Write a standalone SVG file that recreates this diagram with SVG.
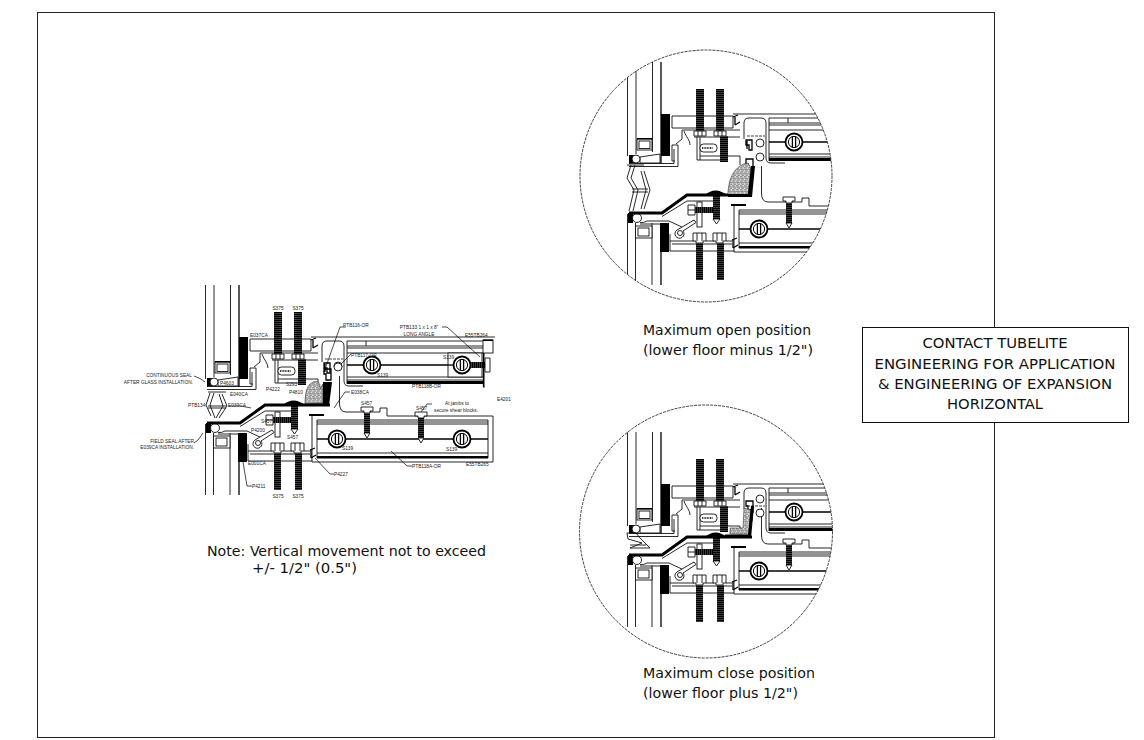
<svg xmlns="http://www.w3.org/2000/svg" xmlns:xlink="http://www.w3.org/1999/xlink" width="1144" height="740" viewBox="0 0 1144 740">
<style>
.l{fill:none;stroke:#111;stroke-width:.9}
.m{fill:none;stroke:#000;stroke-width:1.3}
.f{fill:#fff;stroke:#111;stroke-width:.9}
.k{fill:#000}
.thin{fill:none;stroke:#000;stroke-width:.7}
.lab{font-family:"Liberation Sans",Arial,sans-serif;font-size:4.8px;fill:#222}
.big{font-family:"DejaVu Sans Condensed","DejaVu Sans",Verdana,sans-serif;font-size:14.500px;fill:#111;font-stretch:condensed}
.dash{fill:none;stroke:#111;stroke-width:.8;stroke-dasharray:3 1}
.e{text-anchor:end}.c{text-anchor:middle}
</style>
<defs>
<pattern id="thr" width="3" height="2" patternUnits="userSpaceOnUse"><rect width="3" height="2" fill="#000"/><rect y="1.3" width="3" height=".5" fill="#777"/></pattern>
<pattern id="thrh" width="2" height="3" patternUnits="userSpaceOnUse"><rect width="2" height="3" fill="#000"/><rect x="1.3" width=".5" height="3" fill="#777"/></pattern>
<pattern id="hex" width="4" height="4.400" patternUnits="userSpaceOnUse"><rect width="4" height="4.400" fill="#ddd"/><circle cx="1" cy="1.100" r="1.100" fill="#fff" stroke="#111" stroke-width=".5"/><circle cx="3" cy="3.300" r="1.100" fill="#fff" stroke="#111" stroke-width=".5"/></pattern>
<clipPath id="c1"><circle cx="706" cy="176" r="126"/></clipPath>
<clipPath id="c2"><circle cx="706" cy="531.500" r="126.500"/></clipPath>
<g id="boss"><circle r="8.500" fill="#fff" stroke="#000" stroke-width="1.800"/><circle r="5.600" fill="#fff" stroke="#000" stroke-width="1"/><path d="M-1.600-5.500V5.500M1.600-5.500V5.500" class="m"/></g>
<g id="upperFrame">
<path class="l" d="M205.500 285V379M214 285V377M230.500 285V375"/><path class="m" d="M239 285V387"/>
<rect class="f" x="215" y="362" width="15" height="11"/><rect class="l" x="217" y="364" width="11" height="7.500"/><rect class="k" x="215" y="361" width="15" height="1.400"/>
<rect class="k" x="239" y="337" width="9" height="42"/>
<path class="f" d="M218 380L238 377V386H218Z"/>
<rect class="k" x="207" y="378" width="9" height="8"/><circle class="f" cx="214" cy="382" r="4"/>
<path class="l" d="M207 386.500H252V372M207 389.500H256V368H250V384H253"/>
<path class="l" d="M250 339H311V351H250ZM311 337H495"/>
<path class="m" d="M311 340L316 338M313 348L318 345M313 340V348"/>
<path class="l" d="M260 353H318M272 360H318M260 353V362L254 367M262 354C264 360 268 363 268 368M275 360V383H278V360M278 379H318V388M278 383H298"/>
<rect class="f" x="278" y="367" width="17" height="8" rx="3.500"/><path d="M280 371H291" stroke="#000" stroke-width="1.500" stroke-dasharray="1 .6"/>
<rect fill="url(#thr)" x="274" y="312" width="8" height="42"/><rect fill="url(#thr)" x="294" y="312" width="8" height="42"/>
<path class="f" d="M272 354H284V359H272ZM292 354H304V359H292Z"/><path class="l" d="M276 354V359M280 354V359M296 354V359M300 354V359"/>
<rect fill="url(#thr)" x="298" y="359" width="8" height="26"/>
<path class="l" d="M322 346Q322 341 327 341H339Q344 341 344 346V381Q344 386 349 386H363"/><path class="l" d="M322 346V362"/>
<path class="dash" d="M325 359H343"/><circle class="f" cx="338" cy="366" r="4"/>
<path class="m" stroke-width="1.500" d="M324 363H330V373H327V368H324ZM325 364V372"/>
<path class="l" d="M347 384V341H490M366 341V346M347 346H490M347 348H490M347 353H484M347 377H484M347 380H484M484 353V388"/>
<path class="m" d="M347 365H448M482 365H484"/><rect class="k" x="347" y="381" width="137" height="3"/>
<rect class="f" x="448" y="353" width="34" height="24"/><path class="m" d="M448 365H470"/>
<use xlink:href="#boss" x="372" y="365"/><use xlink:href="#boss" x="462" y="365"/>
<rect fill="url(#thrh)" x="470" y="362" width="15" height="6"/><path class="f" d="M485 358H490V372H485Z"/><path class="m" d="M483.500 353V387"/>
<rect class="f" x="483" y="340" width="10" height="13"/><rect class="k" x="483" y="339.500" width="10" height="1.500"/>
</g>
<g id="lowerFrame">
<path class="l" d="M205.500 424V495M213.500 433V495M230 433V495"/><path class="m" d="M239 433V495"/>
<rect class="f" x="213.500" y="436" width="16.500" height="12"/><rect class="l" x="216" y="438" width="11" height="8"/>
<rect class="k" x="238" y="433" width="9" height="29"/>
<rect class="k" x="206" y="423" width="5" height="10"/><circle class="f" cx="215" cy="428" r="4.500"/>
<path class="l" d="M218 432.500Q222 433 225 431H247L262 438M218 434H240"/>
<path class="l" d="M248 444V461H312M248 451H262M262 451H272M284 451H292M304 451H310M250 454H310"/>
<path class="f" d="M255 440L272 430L274 432.500L261 441A4.500 4.500 0 1 1 255 440Z"/><circle class="f" cx="258" cy="443" r="2.500"/>
<rect class="f" x="275" y="412" width="5" height="25"/>
<rect fill="url(#thrh)" x="273" y="417" width="18" height="6"/><path class="f" d="M266 415H273V425H266Z"/><path class="l" d="M266 420H273"/>
<rect fill="url(#thr)" x="291" y="401" width="7" height="28"/><path d="M291 429H298L294.500 434Z" class="f"/>
<path class="f" d="M271 443H284V451H281V453H274V451H271ZM291 443H304V451H301V453H294V451H291Z"/><path class="l" d="M275 443V451M280 443V451M295 443V451M300 443V451"/>
<rect fill="url(#thr)" x="274" y="453" width="7" height="37"/><rect fill="url(#thr)" x="295" y="453" width="7" height="37"/>
<path d="M207 423H240L265 405H330" fill="none" stroke="#000" stroke-width="3"/><path class="l" d="M240 426.500L265 411H292"/>
<path class="k" d="M283 405Q293 396 305 405Z"/><circle class="f" cx="338" cy="367" r="4"/>
<path class="m" stroke-width="1.500" d="M324 369H331V380H326V374H324Z"/>
<path class="l" d="M339.500 376V403Q339.500 412 346 412H380V408H387V416H493V462H312V416"/>
<rect class="k" x="309" y="414" width="15" height="2"/>
<path class="m" d="M310 450L315 448M311 458L316 455M311 449V458"/>
<path class="l" d="M317 458V420H488V458M317 422H488M317 424H488M317 453H488"/>
<path class="m" d="M317 439H488"/><rect class="k" x="317" y="456" width="171" height="2.500"/>
<use xlink:href="#boss" x="337" y="439"/><use xlink:href="#boss" x="462" y="439"/>
<path class="f" d="M361 407H373V411H370V413H364V411H361Z"/><rect fill="url(#thr)" x="364" y="413" width="6" height="20"/><path class="f" d="M364 433H370L367 438Z"/>
<path class="f" d="M415 412H427V416H424V418H418V416H415Z"/><rect fill="url(#thr)" x="418" y="418" width="6" height="20"/><path class="f" d="M418 438H424L421 443Z"/>
</g>
</defs>

<rect id="sheet-border" x="37.500" y="12.500" width="957" height="725" fill="none" stroke="#222" stroke-width="1"/>

<g id="main-detail">
<use xlink:href="#upperFrame"/>
<use xlink:href="#lowerFrame"/>
<g id="ptb134" class="l"><path d="M210 393L206 405L211 416M214 393L210 405L215 418M222 394L227 406L219 418M219 394L223 406L216 418M208 406H226M208 408H226M208 392H226"/></g>
<g id="foam"><path d="M305 404C305 392 307 385 313 382C318 380 321 384 320 389L323 384V403Z" fill="url(#hex)" stroke="#111" stroke-width=".5"/><path class="k" d="M323 382H332L329 406H305V403.500H323Z"/></g>
<g id="leaders" class="thin">
<path d="M194 376L201 379L205 382M194 443L198 440L203 433M228 406H241L251 408M346 327H340L324 372M351 354L341 364M442 327H447L480 357M350 392H345L334 408M432 404H427L421 412M412 466H407L391 451M334 474H330L315 458M252 486H247L243 462"/>
</g>
<g id="main-labels" class="lab">
<text x="278" y="310" class="c">S375</text><text x="298" y="310" class="c">S375</text>
<text x="278" y="498" class="c">S375</text><text x="298" y="498" class="c">S375</text>
<text x="250" y="337">E037CA</text>
<text x="192" y="377" class="e">CONTINUOUS SEAL</text><text x="193" y="384" class="e">AFTER GLASS INSTALLATION.</text>
<text x="220" y="385">P4603</text><text x="230" y="396">E040CA</text>
<text x="266" y="391">P4222</text><text x="286" y="386">S293</text><text x="289" y="394">P4810</text>
<text x="188" y="407">PTB134</text><text x="228" y="407">E039CA</text>
<text x="261" y="423">S457</text><text x="251" y="432">P4200</text><text x="287" y="439">S457</text>
<text x="194" y="443" class="e">FIELD SEAL AFTER</text><text x="194" y="449" class="e">E039CA INSTALLATION.</text>
<text x="248" y="465">E001CA</text><text x="252" y="488">P4211</text>
<text x="343" y="327">PTB116-OR</text><text x="351" y="357">PTB117-OR</text>
<text x="419" y="329" class="c">PTB133 1 x 1 x 8"</text><text x="419" y="336" class="c">LONG ANGLE</text>
<text x="465" y="337">E55TB264</text><text x="443" y="359">S139</text><text x="377" y="377">S139</text>
<text x="412" y="388">PTB118B-OR</text><text x="351" y="394">E038CA</text><text x="497" y="401">E4201</text>
<text x="361" y="405">S457</text><text x="416" y="410">S457</text>
<text x="445" y="405">At jambs to</text><text x="434" y="412">secure shear blocks.</text>
<text x="342" y="450">S139</text><text x="446" y="451">S139</text><text x="466" y="466">E55TB265</text>
<text x="412" y="468">PTB118A-OR</text><text x="334" y="476">P4227</text>
</g>
</g>

<g id="open-position-detail">
<g clip-path="url(#c1)">
<use xlink:href="#upperFrame" x="422" y="-223"/>
<use xlink:href="#lowerFrame" x="422" y="-210"/>
<path class="l" d="M631 165L627 178L634 190L629 211M635 165L631 178L638 190L633 211M644 171L650 190L644 209M641 171L646 190L641 209M632 189H648M632 192H648M627 165H644"/>
<path d="M728 195C728 178 735 165 748 163L751 168L748 195Z" fill="url(#hex)" stroke="#111" stroke-width=".5"/>
<path class="k" d="M751 166H755L752 197H728V194H748Z"/>
</g>
<circle cx="706" cy="176" r="126" class="dash"/>
</g>

<g id="close-position-detail">
<g clip-path="url(#c2)">
<use xlink:href="#lowerFrame" x="422" y="132"/>
<use xlink:href="#upperFrame" x="422" y="147"/>
<path class="l" d="M627 533H636L640 538L650 548H630L642 543L628 539ZM630 545H646"/>
<path d="M730 534V528H743L744 508L751 510L749 534Z" fill="url(#hex)" stroke="#111" stroke-width=".5"/>
<path class="k" d="M751 506H754L751 538H725V534.500H748Z"/>
</g>
<circle cx="706" cy="531.500" r="126.500" class="dash"/>
</g>

<g id="notes" class="big">
<text x="207" y="556" textLength="279" lengthAdjust="spacingAndGlyphs">Note: Vertical movement not to exceed</text>
<text x="252" y="573" textLength="105" lengthAdjust="spacingAndGlyphs">+/- 1/2" (0.5")</text>
<text x="643" y="335" textLength="168" lengthAdjust="spacingAndGlyphs">Maximum open position</text>
<text x="643" y="355" textLength="170" lengthAdjust="spacingAndGlyphs">(lower floor minus 1/2")</text>
<text x="643" y="678" textLength="172" lengthAdjust="spacingAndGlyphs">Maximum close position</text>
<text x="643" y="698" textLength="155" lengthAdjust="spacingAndGlyphs">(lower floor plus 1/2")</text>
</g>

<g id="engineering-note">
<rect x="862.500" y="327.500" width="266" height="95" fill="#fff" stroke="#111" stroke-width="1"/>
<g class="big">
<text x="995" y="348" class="c" textLength="145" lengthAdjust="spacingAndGlyphs">CONTACT TUBELITE</text>
<text x="995" y="369" class="c" textLength="241" lengthAdjust="spacingAndGlyphs">ENGINEERING FOR APPLICATION</text>
<text x="995" y="389" class="c" textLength="234" lengthAdjust="spacingAndGlyphs">&amp; ENGINEERING OF EXPANSION</text>
<text x="995" y="409" class="c" textLength="96" lengthAdjust="spacingAndGlyphs">HORIZONTAL</text>
</g>
</g>
</svg>
